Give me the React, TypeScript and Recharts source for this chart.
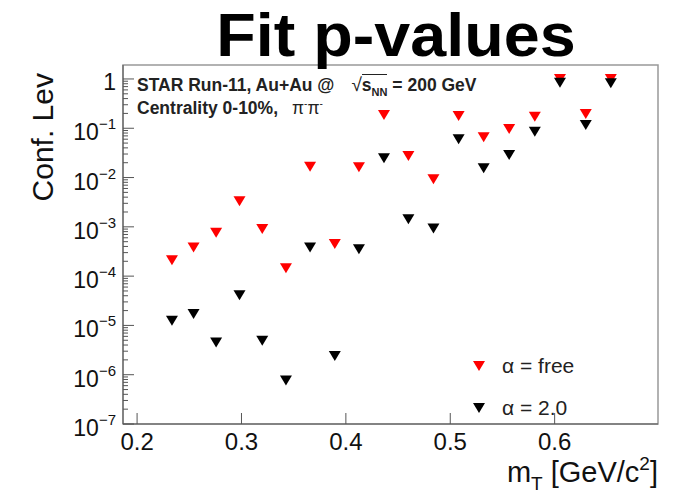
import React from 'react';
import {
  ScatterChart,
  Scatter,
  XAxis,
  YAxis,
  ReferenceArea,
} from 'recharts';

// transverse mass bins (GeV/c^2)
const mT = [
  0.2334, 0.2541, 0.2757, 0.2981, 0.3199, 0.3426, 0.3657, 0.3894, 0.4125, 0.4365,
  0.4599, 0.4839, 0.508, 0.532, 0.5564, 0.581, 0.6051, 0.6298, 0.6538,
];

// confidence level, alpha free
const alphaFree = [
  2.1e-4, 3.8e-4, 7.6e-4, 3.3e-3, 9.0e-4, 1.44e-4, 0.0166, 4.5e-4, 0.0161, 0.186,
  0.0274, 0.0092, 0.178, 0.0656, 0.0967, 0.172, 1.0, 0.195, 1.0,
];

// confidence level, alpha fixed to 2.0
const alphaTwo = [
  1.25e-5, 1.7e-5, 4.5e-6, 4.1e-5, 4.9e-6, 7.6e-7, 3.8e-4, 2.4e-6, 3.5e-4, 0.0246,
  1.42e-3, 9.3e-4, 0.0598, 0.0154, 0.0287, 0.0853, 0.84, 0.117, 0.82,
];

const xTicks = [0.2, 0.3, 0.4, 0.5, 0.6];
const decades = [-7, -6, -5, -4, -3, -2, -1, 0];

const X_MIN = 0.1865;
const X_MAX = 0.699;
const Y_MIN = 1e-7;
const Y_MAX = 1.92;

const freeData = mT.map((m, i) => ({ mT: m, cl: alphaFree[i] }));
const twoData = mT.map((m, i) => ({ mT: m, cl: alphaTwo[i] }));

// major + minor log ticks
const yTicks: number[] = [];
decades.forEach((d) => {
  yTicks.push(Math.pow(10, d));
  if (d < 0) {
    for (let k = 2; k <= 9; k++) yTicks.push(k * Math.pow(10, d));
  }
});

const FONT = '"Liberation Sans", Arial, Helvetica, sans-serif';

function DownTriangle(props: any) {
  const { cx, cy, fill } = props;
  if (cx == null || cy == null) return null;
  const w = 6;
  const h = 5;
  return (
    <path
      d={`M${cx - w},${cy - h} L${cx + w},${cy - h} L${cx},${cy + h} Z`}
      fill={fill}
    />
  );
}

function YTick(props: any) {
  const { x, y, payload } = props;
  const v = payload.value;
  const lg = Math.log10(v);
  const major = Math.abs(lg - Math.round(lg)) < 1e-6;
  const len = major ? 11 : 5;
  return (
    <g>
      <line x1={x} y1={y} x2={x + len} y2={y} stroke="#555" strokeWidth={1} />
      {major &&
        (Math.round(lg) === 0 ? (
          <text x={x - 7} y={y + 11} textAnchor="end" fontSize={23} fontFamily={FONT} fill="#111">
            1
          </text>
        ) : (
          <text x={x - 7} y={y + 12} textAnchor="end" fontSize={23} fontFamily={FONT} fill="#111">
            10
            <tspan dy={-11} fontSize={15}>
              {'\u2212' + Math.abs(Math.round(lg))}
            </tspan>
          </text>
        ))}
    </g>
  );
}

function XTick(props: any) {
  const { x, y, payload } = props;
  return (
    <g>
      <line x1={x} y1={y} x2={x} y2={y - 11} stroke="#555" strokeWidth={1} />
      <text x={x} y={y + 26} textAnchor="middle" fontSize={24} fontFamily={FONT} fill="#111">
        {payload.value.toFixed(1)}
      </text>
    </g>
  );
}

function XTitle(props: any) {
  const vb = props.viewBox;
  return (
    <text
      x={vb.x + vb.width}
      y={vb.y + 58}
      textAnchor="end"
      fontSize={29}
      fontFamily={FONT}
      fill="#111"
    >
      m<tspan dy={8} fontSize={19}>T</tspan>
      <tspan dy={-8}> [GeV/c</tspan>
      <tspan dy={-12} fontSize={19}>2</tspan>
      <tspan dy={12}>]</tspan>
    </text>
  );
}

function YTitle() {
  return (
    <text
      transform="translate(53, 73) rotate(-90)"
      textAnchor="end"
      fontSize={30}
      fontFamily={FONT}
      fill="#111"
    >
      Conf. Lev
    </text>
  );
}

export default function App() {
  return (
    <div style={{ position: 'absolute', left: 0, top: 0, width: 679, height: 497, background: '#fff' }}>
      <ScatterChart
        width={679}
        height={497}
        margin={{ top: 65, right: 21, bottom: 0, left: 0 }}
      >
        <XAxis
          type="number"
          dataKey="mT"
          domain={[X_MIN, X_MAX]}
          ticks={xTicks}
          allowDataOverflow
          height={73}
          tickSize={0}
          tickMargin={0}
          tick={<XTick />}
          axisLine={{ stroke: '#555' }}
          tickLine={false}
          label={<XTitle />}
        />
        <YAxis
          type="number"
          dataKey="cl"
          scale="log"
          domain={[Y_MIN, Y_MAX]}
          ticks={yTicks}
          interval={0}
          allowDataOverflow
          width={123}
          tickSize={0}
          tickMargin={0}
          tick={<YTick />}
          axisLine={{ stroke: '#555' }}
          tickLine={false}
          label={<YTitle />}
        />
        <ReferenceArea
          x1={X_MIN}
          x2={X_MAX}
          y1={Y_MIN}
          y2={Y_MAX}
          fill="none"
          stroke="#999"
          strokeWidth={1.5}
          ifOverflow="visible"
        />
        <Scatter
          name="α = free"
          data={freeData}
          fill="#ff0000"
          shape={<DownTriangle />}
          isAnimationActive={false}
        />
        <Scatter
          name="α = 2.0"
          data={twoData}
          fill="#000000"
          shape={<DownTriangle />}
          isAnimationActive={false}
        />
      </ScatterChart>

      <div
        style={{
          position: 'absolute',
          left: 0,
          top: 9,
          width: 792,
          textAlign: 'center',
          fontFamily: FONT,
          fontWeight: 700,
          fontSize: 61,
          lineHeight: '52px',
          color: '#000',
          transform: 'scaleX(1.06)',
          transformOrigin: '396px 0',
        }}
      >
        Fit p-values
      </div>

      <div
        style={{
          position: 'absolute',
          left: 137,
          top: 73,
          fontFamily: FONT,
          fontSize: 17.5,
          lineHeight: '23px',
          color: '#222',
          whiteSpace: 'nowrap',
        }}
      >
        <div>
          <b>STAR Run-11, Au+Au @</b>
          <span style={{ marginLeft: 17 }}>
            <span style={{ fontSize: 19 }}>√</span>
            <span style={{ borderTop: '1px solid #222', fontWeight: 700 }}>
              s<sub style={{ fontSize: 11, lineHeight: 0 }}>NN</sub>
            </span>
            <b> = 200 GeV</b>
          </span>
        </div>
        <div>
          <b>Centrality 0-10%,</b>
          <span style={{ marginLeft: 14 }}>
            π<sup style={{ fontSize: 10, lineHeight: 0 }}>-</sup>π<sup style={{ fontSize: 10, lineHeight: 0 }}>-</sup>
          </span>
        </div>
      </div>

      <div
        style={{
          position: 'absolute',
          left: 470,
          top: 352,
          fontFamily: FONT,
          fontSize: 21,
          color: '#222',
        }}
      >
        {[
          { label: 'α = free', color: '#ff0000' },
          { label: 'α = 2.0', color: '#000000' },
        ].map((item, i) => (
          <div key={i} style={{ display: 'flex', alignItems: 'center', height: 28, marginBottom: 14 }}>
            <svg width={18} height={12} style={{ marginRight: 14 }}>
              <path d="M3,1 L15,1 L9,11 Z" fill={item.color} />
            </svg>
            <span>{item.label}</span>
          </div>
        ))}
      </div>
    </div>
  );
}
